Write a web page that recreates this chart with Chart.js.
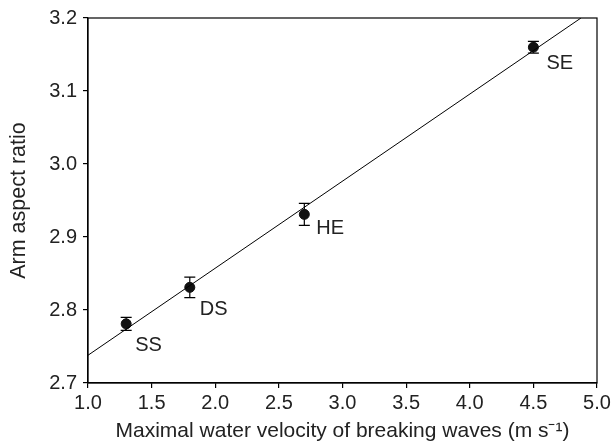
<!DOCTYPE html>
<html>
<head>
<meta charset="utf-8">
<script src="https://cdn.jsdelivr.net/npm/chart.js@4"></script>
<style>
  html, body { margin: 0; padding: 0; background: #fff; }
  #wrap { width: 615px; height: 446px; }
</style>
</head>
<body>
<div id="wrap"><canvas id="grafico"></canvas></div>
<script>
// datos
const sitios = ['SS', 'DS', 'HE', 'SE'];
const velocidad = [1.3, 1.8, 2.7, 4.5];
const aspecto = [2.781, 2.831, 2.931, 3.160];
const error = [0.009, 0.014, 0.015, 0.008];
// recta de regresion (extremos)
const rectaX = [1.0, 4.874];
const rectaY = [2.738, 3.2];

const xTicks = [1.0, 1.5, 2.0, 2.5, 3.0, 3.5, 4.0, 4.5, 5.0];
const yTicks = [2.7, 2.8, 2.9, 3.0, 3.1, 3.2];

// desplazamiento de las etiquetas respecto al punto (px)
const offsets = [[9, 22], [10, 22], [12, 14], [13, 16]];

const texto = '#222';
const fuente = 'Liberation Sans, Arial, sans-serif';

// marco, barras de error y etiquetas
const extras = {
  id: 'extras',
  beforeDatasetsDraw(chart) {
    const { ctx, scales: { x, y } } = chart;
    ctx.save();
    ctx.strokeStyle = '#000';
    ctx.lineWidth = 1.2;
    velocidad.forEach((v, i) => {
      const px = x.getPixelForValue(v);
      const top = y.getPixelForValue(aspecto[i] + error[i]);
      const bot = y.getPixelForValue(aspecto[i] - error[i]);
      ctx.beginPath();
      ctx.moveTo(px, top); ctx.lineTo(px, bot);
      ctx.moveTo(px - 5.5, top); ctx.lineTo(px + 5.5, top);
      ctx.moveTo(px - 5.5, bot); ctx.lineTo(px + 5.5, bot);
      ctx.stroke();
    });
    ctx.restore();
  },
  afterDatasetsDraw(chart) {
    const { ctx, chartArea: a, scales: { x, y } } = chart;
    ctx.save();
    ctx.strokeStyle = '#000';
    ctx.lineWidth = 1.2;
    ctx.strokeRect(a.left, a.top, a.right - a.left, a.bottom - a.top);
    ctx.fillStyle = texto;
    ctx.font = '20px ' + fuente;
    ctx.textAlign = 'left';
    ctx.textBaseline = 'middle';
    sitios.forEach((s, i) => {
      const px = x.getPixelForValue(velocidad[i]);
      const py = y.getPixelForValue(aspecto[i]);
      ctx.fillText(s, px + offsets[i][0], py + offsets[i][1]);
    });
    ctx.restore();
  }
};

function generarGrafico() {
  const ctx = document.getElementById('grafico').getContext('2d');
  new Chart(ctx, {
    type: 'scatter',
    data: {
      datasets: [
        {
          label: 'Regresion',
          type: 'line',
          data: rectaX.map((v, i) => ({ x: v, y: rectaY[i] })),
          borderColor: '#000',
          borderWidth: 1,
          pointRadius: 0,
          fill: false
        },
        {
          label: 'Sitios',
          data: velocidad.map((v, i) => ({ x: v, y: aspecto[i] })),
          backgroundColor: '#111',
          borderColor: '#111',
          pointRadius: 5,
          pointHoverRadius: 5
        }
      ]
    },
    options: {
      responsive: true,
      maintainAspectRatio: false,
      animation: false,
      layout: { padding: { left: 0, top: 15, right: 18, bottom: 0 } },
      plugins: { legend: { display: false }, tooltip: { enabled: false } },
      scales: {
        x: {
          type: 'linear',
          min: 1.0,
          max: 5.0,
          afterBuildTicks: (s) => { s.ticks = xTicks.map(v => ({ value: v })); },
          afterFit: (s) => { s.height = 63; },
          ticks: {
            color: texto,
            font: { family: fuente, size: 20 },
            padding: 3,
            maxRotation: 0,
            callback: (v) => Number(v).toFixed(1)
          },
          grid: { display: true, drawOnChartArea: false, drawTicks: true, tickLength: 5, color: '#000', lineWidth: 1.2 },
          border: { display: true, color: '#000', width: 1.2 },
          title: {
            display: true,
            text: 'Maximal water velocity of breaking waves (m s⁻¹)',
            color: texto,
            font: { family: fuente, size: 21 },
            padding: { top: 0, bottom: 2 }
          }
        },
        y: {
          type: 'linear',
          min: 2.7,
          max: 3.2,
          afterBuildTicks: (s) => { s.ticks = yTicks.map(v => ({ value: v })); },
          afterFit: (s) => { s.width = 88; },
          ticks: {
            color: texto,
            font: { family: fuente, size: 20 },
            padding: 6,
            callback: (v) => Number(v).toFixed(1)
          },
          grid: { display: true, drawOnChartArea: false, drawTicks: true, tickLength: 5, color: '#000', lineWidth: 1.2 },
          border: { display: true, color: '#000', width: 1.2 },
          title: {
            display: true,
            text: 'Arm aspect ratio',
            color: texto,
            font: { family: fuente, size: 21.5 },
            padding: { top: 6, bottom: 0 }
          }
        }
      }
    },
    plugins: [extras]
  });
}

window.onload = generarGrafico;
</script>
</body>
</html>
